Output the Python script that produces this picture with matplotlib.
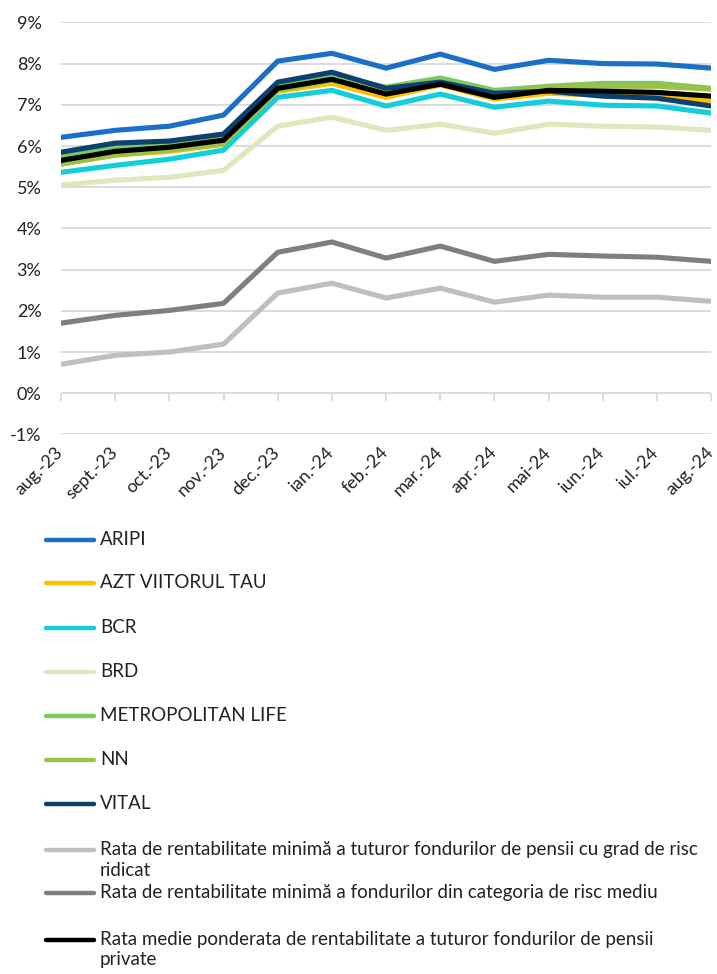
import matplotlib
matplotlib.use("Agg")
from matplotlib import pyplot as plt
from matplotlib.lines import Line2D
import matplotlib.transforms as mtransforms
import numpy as np

plt.rcParams['font.family'] = ['Lato', 'DejaVu Sans']

months = ['aug.-23', 'sept.-23', 'oct.-23', 'nov.-23', 'dec.-23', 'ian.-24', 'feb.-24',
          'mar.-24', 'apr.-24', 'mai-24', 'iun.-24', 'iul.-24', 'aug.-24']

aripi = [6.21, 6.38, 6.48, 6.75, 8.06, 8.25, 7.89, 8.23, 7.86, 8.08, 8.00, 7.99, 7.89]
azt = [5.56, 5.78, 5.87, 6.04, 7.33, 7.52, 7.18, 7.48, 7.14, 7.28, 7.23, 7.21, 7.09]
bcr = [5.36, 5.53, 5.68, 5.90, 7.18, 7.35, 6.97, 7.26, 6.94, 7.09, 6.99, 6.97, 6.80]
brd = [5.05, 5.17, 5.24, 5.41, 6.48, 6.70, 6.38, 6.53, 6.31, 6.53, 6.48, 6.46, 6.38]
metropolitan = [5.75, 5.97, 6.05, 6.21, 7.45, 7.70, 7.43, 7.65, 7.35, 7.45, 7.52, 7.52, 7.40]
nn = [5.56, 5.78, 5.90, 6.05, 7.35, 7.60, 7.30, 7.52, 7.28, 7.43, 7.45, 7.45, 7.38]
vital = [5.85, 6.07, 6.12, 6.29, 7.55, 7.79, 7.40, 7.55, 7.28, 7.33, 7.21, 7.16, 6.97]
min_ridicat = [0.70, 0.92, 1.00, 1.19, 2.43, 2.67, 2.31, 2.55, 2.21, 2.38, 2.33, 2.33, 2.23]
min_mediu = [1.70, 1.89, 2.01, 2.18, 3.42, 3.67, 3.28, 3.57, 3.20, 3.37, 3.33, 3.30, 3.20]
medie = [5.65, 5.87, 5.97, 6.14, 7.40, 7.62, 7.26, 7.50, 7.18, 7.35, 7.33, 7.30, 7.21]

names = ['ARIPI', 'AZT VIITORUL TAU', 'BCR', 'BRD', 'METROPOLITAN LIFE', 'NN', 'VITAL',
         'Rata de rentabilitate minimă a tuturor fondurilor de pensii cu grad de risc\nridicat',
         'Rata de rentabilitate minimă a fondurilor din categoria de risc mediu',
         'Rata medie ponderata de rentabilitate a tuturor fondurilor de pensii\nprivate']
series = [aripi, azt, bcr, brd, metropolitan, nn, vital, min_ridicat, min_mediu, medie]
colors = ['#1A6FC6', '#FFC000', '#12CEDB', '#DDE8BD', '#7CC864', '#9DC143', '#0C416F',
          '#BFBFBF', '#7F7F7F', '#000000']

fig = plt.figure(figsize=(7.17, 9.74), dpi=100)
ax = fig.add_axes([0.085, 0.554, 0.907, 0.423])

x = np.arange(len(months))
for vals, c in zip(series, colors):
    ax.plot(x, vals, color=c, lw=3.7, solid_capstyle='round', solid_joinstyle='round')

ax.set_xlim(0, len(months) - 1)
ax.set_ylim(-1, 9)
ax.set_yticks(range(-1, 10))
ax.set_yticklabels([f'{v}%' for v in range(-1, 10)], fontsize=13, color='#222222')
ax.grid(axis='y', color='#D9D9D9', lw=1.3)
ax.set_axisbelow(True)
for s in ax.spines.values():
    s.set_visible(False)
ax.tick_params(axis='y', length=0, pad=14)
ax.set_xticks(x)
ax.set_xticklabels(months, rotation=45, ha='right', rotation_mode='anchor',
                   fontsize=13, color='#222222')
ax.tick_params(axis='x', length=0, pad=7)
shift = mtransforms.ScaledTranslation(-6 / 100, 0, fig.dpi_scale_trans)
for lbl in ax.get_xticklabels():
    lbl.set_transform(lbl.get_transform() + shift)

# tick marks sitting on the 0% line
sec = ax.secondary_xaxis(0.1)
sec.set_xticks(x)
sec.set_xticklabels([])
sec.tick_params(axis='x', length=6, color='#D9D9D9', width=1.3)
sec.spines['bottom'].set_visible(False)

# legend drawn as a vertical list
row_y = [540, 583, 628, 672, 716, 760, 804, 850, 893, 940]
for name, c, yy in zip(names, colors, row_y):
    yf = 1 - yy / 974
    fig.add_artist(Line2D([46 / 717, 94 / 717], [yf, yf], color=c, lw=3.2,
                          solid_capstyle='round', transform=fig.transFigure))
    fig.text(100 / 717, yf + 9 / 974, name, fontsize=13.5, color='#222222',
             va='top', ha='left', linespacing=1.25)

fig.savefig('out.png', dpi=100)
